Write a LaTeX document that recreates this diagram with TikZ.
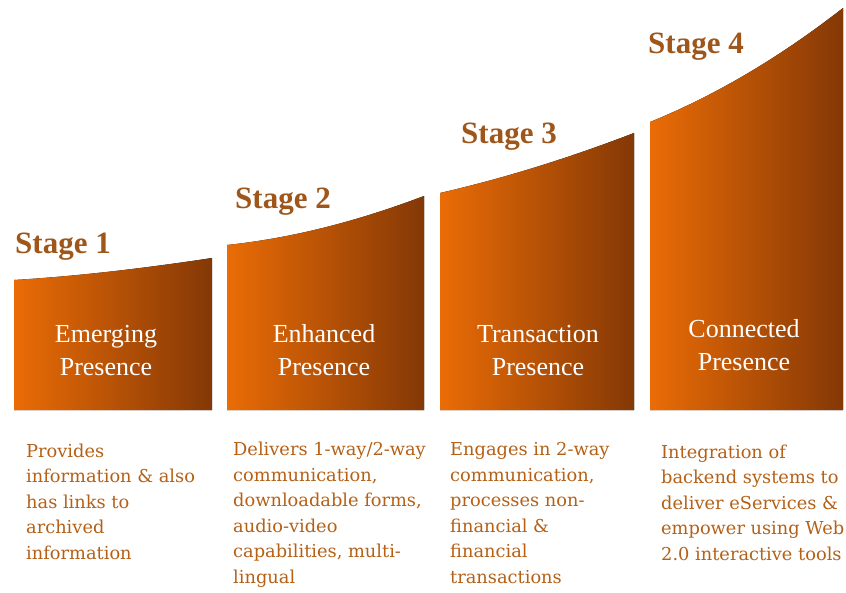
\documentclass[tikz,border=0pt]{standalone}
\usepackage{fontspec}
\setmainfont{Liberation Serif}
\newfontfamily\descfont{DejaVu Serif}
\usepackage{xcolor}
\usepackage{tikz}

\definecolor{stageorange}{RGB}{234,108,6}
\definecolor{stagebrown}{RGB}{132,56,6}
\definecolor{titlebrown}{RGB}{158,86,26}
\definecolor{descbrown}{RGB}{180,96,22}

\begin{document}
\begin{tikzpicture}[x=1pt, y=-1pt,
    stagebox/.style={draw=none, left color=stageorange, right color=stagebrown},
    stagetitle/.style={anchor=base west, inner sep=0pt, text=titlebrown,
        font=\fontsize{31}{36}\selectfont\bfseries},
    boxtext/.style={anchor=base, inner sep=0pt, text=white, align=center,
        font=\fontsize{26}{33}\selectfont},
    desctext/.style={anchor=base west, inner sep=0pt, text=descbrown, align=left,
        font=\descfont\fontsize{17.8}{25.5}\selectfont}]

    \useasboundingbox (0,0) rectangle (846,592);
    \def\bot{410} % bottom of the boxes
    % text nodes sit on the baseline of their last line

    % stage 1
    \coordinate (A1) at (14,280);
    \coordinate (B1) at (212,258);
    \fill[stagebox] (14,\bot) -- (A1) .. controls (80,276) and (146,268) .. (B1) -- (212,\bot) -- cycle;
    \node[stagetitle] (T1) at (15,253) {Stage 1};
    \node[boxtext] (N1) at (106,375) {Emerging\\Presence};
    \node[desctext] (D1) at (26,559) {Provides\\information \& also\\has links to\\archived\\information};

    % stage 2
    \coordinate (A2) at (227,245);
    \coordinate (B2) at (424,196);
    \fill[stagebox] (227,\bot) -- (A2) .. controls (293,238) and (358,221) .. (B2) -- (424,\bot) -- cycle;
    \node[stagetitle] (T2) at (235,208) {Stage 2};
    \node[boxtext] (N2) at (324,375) {Enhanced\\Presence};
    \node[desctext] (D2) at (233,583) {Delivers 1-way/2-way\\communication,\\downloadable forms,\\audio-video\\capabilities, multi-\\lingual};

    % stage 3
    \coordinate (A3) at (440,193);
    \coordinate (B3) at (634,133);
    \fill[stagebox] (440,\bot) -- (A3) .. controls (505,178) and (569,158) .. (B3) -- (634,\bot) -- cycle;
    \node[stagetitle] (T3) at (461,143) {Stage 3};
    \node[boxtext] (N3) at (538,375) {Transaction\\Presence};
    \node[desctext] (D3) at (450,583) {Engages in 2-way\\communication,\\processes non-\\financial \&\\financial\\transactions};

    % stage 4
    \coordinate (A4) at (650,122);
    \coordinate (B4) at (843,8);
    \fill[stagebox] (650,\bot) -- (A4) .. controls (714,96) and (779,58) .. (B4) -- (843,\bot) -- cycle;
    \node[stagetitle] (T4) at (648,53) {Stage 4};
    \node[boxtext] (N4) at (744,370) {Connected\\Presence};
    \node[desctext] (D4) at (661,560) {Integration of\\backend systems to\\deliver eServices \&\\empower using Web\\2.0 interactive tools};

\end{tikzpicture}
\end{document}
